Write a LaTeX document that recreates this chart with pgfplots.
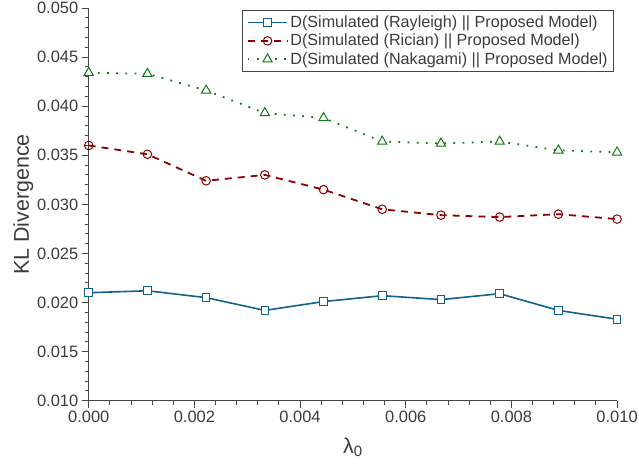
\documentclass[border=0pt]{standalone}
\usepackage{fontspec}
\setmainfont{Liberation Sans}
\usepackage{pgfplots}
\pgfplotsset{compat=1.18}
\definecolor{cray}{RGB}{16,96,145}
\definecolor{cric}{RGB}{140,0,0}
\definecolor{cnak}{RGB}{20,120,20}
\definecolor{txt}{RGB}{60,60,60}
\definecolor{axc}{RGB}{70,70,70}
\begin{document}
\begin{tikzpicture}
\begin{axis}[
  scale only axis,
  width=530bp, height=394bp,
  xmin=0, xmax=0.01, ymin=0.01, ymax=0.05,
  axis lines*=left,
  axis line style={axc, line width=1bp, -},
  xtick={0,0.002,0.004,0.006,0.008,0.01},
  ytick={0.01,0.015,0.02,0.025,0.03,0.035,0.04,0.045,0.05},
  minor x tick num=4, minor y tick num=4,
  tick align=outside,
  major tick length=7bp, minor tick length=4bp,
  tick style={axc, line width=0.9bp},
  scaled ticks=false,
  xticklabel style={/pgf/number format/.cd, fixed, fixed zerofill, precision=3, assume math mode=true},
  yticklabel style={/pgf/number format/.cd, fixed, fixed zerofill, precision=3, assume math mode=true},
  ticklabel style={font=\fontsize{16.5bp}{19bp}\selectfont, text=txt},
  xlabel={λ\textsubscript{0}},
  ylabel={KL Divergence},
  label style={font=\fontsize{21.5bp}{24bp}\selectfont, text=txt},
  xlabel style={yshift=-8bp},
  ylabel style={yshift=-3bp},
  legend style={at={(rel axis cs:0.994,0.995)}, anchor=north east, draw=axc, line width=0.8bp,
    font=\fontsize{16.2bp}{18bp}\selectfont, text=txt, inner xsep=4bp, inner ysep=3bp,
    nodes={inner ysep=2.6bp}},
  legend cell align=left,
  legend image code/.code={\draw[mark repeat=2,mark phase=2,#1] plot coordinates {(0bp,0bp) (20bp,0bp) (40bp,0bp)};},
]
\addplot[cray, line width=1.6bp, mark=square*, mark size=3.8bp, mark options={solid, fill=white, line width=1bp}]
coordinates {(0,0.0210) (0.0011111,0.0212) (0.0022222,0.0205) (0.0033333,0.0192) (0.0044444,0.0201)
 (0.0055556,0.0207) (0.0066667,0.0203) (0.0077778,0.0209) (0.0088889,0.0192) (0.01,0.0183)};
\addlegendentry{D(Simulated (Rayleigh) || Proposed Model)}
\addplot[cric, line width=1.8bp, dash pattern=on 7bp off 6bp, mark=o, mark size=4.3bp, mark options={solid, fill=white, line width=1bp}]
coordinates {(0,0.0360) (0.0011111,0.0351) (0.0022222,0.0324) (0.0033333,0.0330) (0.0044444,0.0315)
 (0.0055556,0.0295) (0.0066667,0.0289) (0.0077778,0.0287) (0.0088889,0.0290) (0.01,0.0285)};
\addlegendentry{D(Simulated (Rician) || Proposed Model)}
\addplot[cnak, line width=1.8bp, dash pattern=on 1.8bp off 7.4bp, mark=triangle*, mark size=5.4bp, mark options={solid, fill=white, line width=1bp}]
coordinates {(0,0.0434) (0.0011111,0.0433) (0.0022222,0.0416) (0.0033333,0.0393) (0.0044444,0.0388)
 (0.0055556,0.0364) (0.0066667,0.0362) (0.0077778,0.0364) (0.0088889,0.0355) (0.01,0.0353)};
\addlegendentry{D(Simulated (Nakagami) || Proposed Model)}
\end{axis}
\pgfresetboundingbox
\path (-89bp,-63bp) rectangle (552bp,402bp);
\end{tikzpicture}
\end{document}
